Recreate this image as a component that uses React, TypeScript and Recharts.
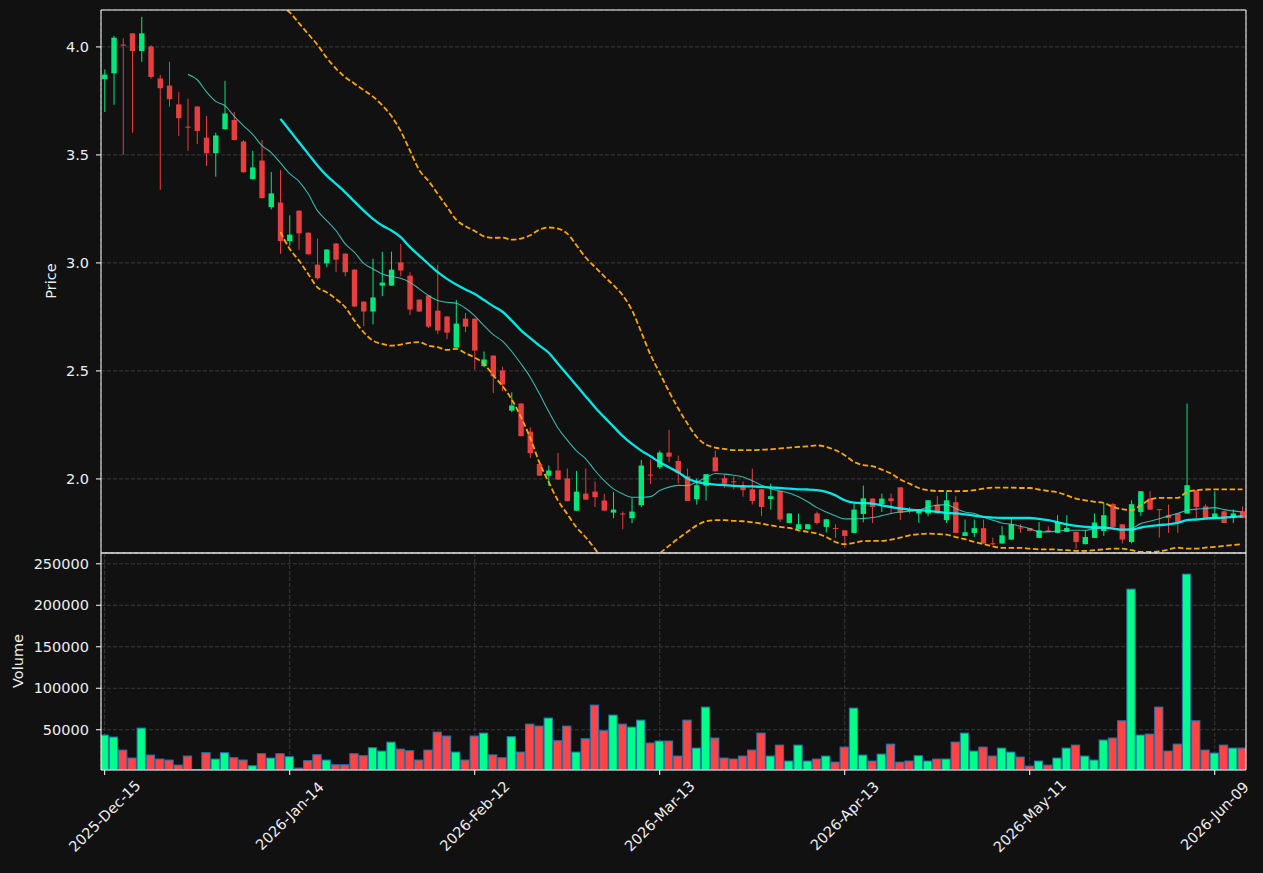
import React from "react";
import {
  ComposedChart,
  Bar,
  Line,
  XAxis,
  YAxis,
  CartesianGrid,
} from "recharts";

// ticks every 20 sessions
const tickIdx = [0, 20, 40, 60, 80, 100, 120];
const tickLabels = [
  "2025-Dec-15",
  "2026-Jan-14",
  "2026-Feb-12",
  "2026-Mar-13",
  "2026-Apr-13",
  "2026-May-11",
  "2026-Jun-09",
];

const opens = [
  3.851, 3.878, 4.011, 4.063, 3.981, 4.002, 3.854, 3.821, 3.734, 3.631,
  3.724, 3.58, 3.508, 3.619, 3.662, 3.562, 3.388, 3.474, 3.258, 3.28,
  3.101, 3.242, 3.14, 2.992, 2.998, 3.09, 3.043, 2.969, 2.821, 2.775,
  2.895, 2.895, 3.002, 2.941, 2.83, 2.849, 2.779, 2.752, 2.608, 2.742,
  2.742, 2.522, 2.571, 2.502, 2.316, 2.349, 2.219, 2.069, 2.015, 2.039,
  2.002, 1.853, 1.932, 1.941, 1.9, 1.844, 1.84, 1.818, 1.878, 2.02,
  2.054, 2.122, 2.083, 2.012, 1.906, 1.968, 2.1, 2.003, 1.989, 1.963,
  1.952, 1.952, 1.907, 1.944, 1.796, 1.767, 1.767, 1.84, 1.778, 1.773,
  1.762, 1.75, 1.838, 1.909, 1.883, 1.91, 1.961, 1.856, 1.84, 1.84,
  1.881, 1.809, 1.892, 1.736, 1.75, 1.772, 1.702, 1.701, 1.719, 1.775,
  1.772, 1.727, 1.762, 1.75, 1.755, 1.755, 1.698, 1.727, 1.759, 1.883,
  1.79, 1.708, 1.847, 1.909, 1.86, 1.832, 1.84, 1.84, 1.948, 1.873,
  1.819, 1.85, 1.819, 1.85,
];
const highs = [
  3.896, 4.051, 4.04, 4.065, 4.139, 4.008, 3.87, 3.931, 3.792, 3.76,
  3.726, 3.681, 3.603, 3.843, 3.699, 3.569, 3.519, 3.569, 3.421, 3.431,
  3.22, 3.243, 3.142, 3.113, 3.063, 3.091, 3.044, 2.97, 2.822, 3.02,
  3.052, 3.052, 3.088, 2.957, 2.831, 2.85, 2.992, 2.753, 2.829, 2.768,
  2.743, 2.59, 2.572, 2.52, 2.401, 2.35, 2.239, 2.07, 2.062, 2.12,
  2.048, 2.037, 2.048, 1.988, 1.931, 1.94, 1.849, 1.914, 2.088, 2.09,
  2.131, 2.227, 2.108, 2.048, 2.002, 2.023, 2.131, 2.02, 2.012, 1.988,
  2.048, 1.953, 1.978, 1.945, 1.841, 1.84, 1.791, 1.849, 1.815, 1.79,
  1.763, 1.886, 1.969, 1.91, 1.932, 1.932, 1.962, 1.87, 1.856, 1.902,
  1.92, 1.94, 1.92, 1.812, 1.812, 1.812, 1.728, 1.781, 1.816, 1.79,
  1.773, 1.801, 1.781, 1.832, 1.832, 1.756, 1.762, 1.84, 1.889, 1.889,
  1.791, 1.901, 1.944, 1.943, 1.86, 1.881, 1.841, 2.349, 1.949, 1.883,
  1.943, 1.851, 1.858, 1.873,
];
const lows = [
  3.699, 3.732, 3.5, 3.603, 3.931, 3.853, 3.338, 3.723, 3.588, 3.519,
  3.551, 3.449, 3.399, 3.617, 3.567, 3.418, 3.386, 3.298, 3.248, 3.042,
  3.079, 3.06, 3.038, 2.923, 2.98, 2.957, 2.938, 2.797, 2.707, 2.716,
  2.846, 2.894, 2.938, 2.759, 2.774, 2.698, 2.67, 2.647, 2.607, 2.679,
  2.506, 2.517, 2.397, 2.406, 2.309, 2.197, 2.097, 2.014, 1.969, 1.996,
  1.896, 1.852, 1.903, 1.87, 1.852, 1.818, 1.767, 1.795, 1.869, 1.977,
  2.046, 2.077, 1.98, 1.897, 1.881, 1.9, 2.034, 1.958, 1.951, 1.918,
  1.881, 1.829, 1.858, 1.801, 1.795, 1.766, 1.766, 1.789, 1.752, 1.727,
  1.681, 1.749, 1.799, 1.796, 1.847, 1.84, 1.809, 1.84, 1.796, 1.827,
  1.839, 1.796, 1.749, 1.735, 1.731, 1.7, 1.693, 1.7, 1.718, 1.75,
  1.758, 1.726, 1.754, 1.749, 1.754, 1.677, 1.697, 1.726, 1.736, 1.777,
  1.701, 1.701, 1.829, 1.857, 1.728, 1.75, 1.75, 1.839, 1.819, 1.818,
  1.818, 1.795, 1.796, 1.818,
];
const closes = [
  3.872, 4.043, 4.006, 3.981, 4.063, 3.861, 3.809, 3.758, 3.67, 3.628,
  3.611, 3.508, 3.59, 3.692, 3.569, 3.42, 3.442, 3.3, 3.322, 3.101,
  3.131, 3.137, 3.04, 2.929, 3.062, 3.015, 2.957, 2.798, 2.775, 2.84,
  2.909, 2.969, 2.965, 2.784, 2.775, 2.705, 2.687, 2.677, 2.719, 2.705,
  2.594, 2.553, 2.475, 2.437, 2.34, 2.198, 2.119, 2.015, 2.039, 1.997,
  1.897, 1.941, 1.904, 1.915, 1.853, 1.858, 1.837, 1.849, 2.062, 2.017,
  2.122, 2.103, 2.026, 1.898, 1.971, 2.022, 2.035, 1.978, 1.986, 1.948,
  1.898, 1.87, 1.92, 1.812, 1.84, 1.79, 1.79, 1.796, 1.813, 1.77,
  1.736, 1.858, 1.91, 1.87, 1.909, 1.897, 1.843, 1.853, 1.855, 1.901,
  1.84, 1.901, 1.75, 1.753, 1.772, 1.701, 1.699, 1.739, 1.79, 1.772,
  1.759, 1.762, 1.755, 1.801, 1.773, 1.708, 1.731, 1.798, 1.832, 1.778,
  1.719, 1.883, 1.943, 1.858, 1.857, 1.819, 1.801, 1.971, 1.87, 1.819,
  1.84, 1.796, 1.84, 1.819,
];
const volumes = [
  43600, 41200, 25500, 15900, 52000, 19500, 14700, 13500, 7400, 18300,
  2200, 22300, 14700, 22300, 16300, 13500, 6600, 21100, 15900, 21100,
  17500, 3800, 12700, 19900, 13500, 7800, 7800, 21100, 18700, 28300,
  24300, 35100, 26700, 24700, 13500, 25500, 47200, 42400, 23100, 13500,
  42400, 46000, 19700, 16300, 41600, 23100, 56800, 54400, 64100, 36800,
  54400, 23100, 39200, 79700, 48800, 67700, 56800, 53200, 61600, 34000,
  36400, 36400, 18300, 61600, 27900, 77300, 40000, 15900, 14700, 18300,
  25500, 46000, 18300, 31500, 12300, 31500, 12300, 14700, 18300, 11000,
  29100, 76100, 19500, 12300, 20700, 32700, 11000, 12300, 18700, 12300,
  14700, 14700, 35100, 46000, 24300, 29100, 18300, 27900, 23100, 17100,
  6200, 12300, 7400, 15900, 27900, 31500, 18300, 13500, 37600, 40000,
  60800, 219500, 43600, 44800, 77300, 24300, 32700, 237600, 60800, 25500,
  21900, 31500, 27900, 27900,
];

// short average, drawn from session 9
const ma10Start = 9;
const ma10 = [
  3.873, 3.848, 3.792, 3.748, 3.728, 3.679, 3.636, 3.595, 3.543, 3.511,
  3.463, 3.413, 3.378, 3.32, 3.242, 3.196, 3.15, 3.088, 3.049, 2.998,
  2.972, 2.949, 2.937, 2.929, 2.91, 2.88, 2.849, 2.826, 2.818, 2.813,
  2.79, 2.755, 2.71, 2.668, 2.638, 2.59, 2.533, 2.471, 2.394, 2.312,
  2.236, 2.18, 2.13, 2.093, 2.039, 1.992, 1.954, 1.931, 1.915, 1.915,
  1.918, 1.946, 1.962, 1.97, 1.969, 1.986, 2.006, 2.025, 2.022, 2.017,
  2.009, 1.991, 1.971, 1.955, 1.944, 1.935, 1.917, 1.894, 1.867, 1.847,
  1.829, 1.815, 1.815, 1.817, 1.821, 1.83, 1.84, 1.847, 1.85, 1.855,
  1.87, 1.878, 1.881, 1.863, 1.847, 1.84, 1.824, 1.809, 1.796, 1.79,
  1.781, 1.77, 1.755, 1.755, 1.758, 1.762, 1.762, 1.762, 1.77, 1.773,
  1.773, 1.765, 1.77, 1.793, 1.804, 1.816, 1.829, 1.84, 1.855, 1.86,
  1.863, 1.867, 1.858, 1.852, 1.847,
];

// long average and bands, drawn from session 19
const bandStart = 19;
const ma20 = [
  3.667, 3.613, 3.559, 3.505, 3.451, 3.404, 3.366, 3.327, 3.284, 3.242,
  3.204, 3.173, 3.15, 3.119, 3.073, 3.034, 2.995, 2.957, 2.926, 2.9,
  2.877, 2.856, 2.828, 2.8, 2.774, 2.733, 2.688, 2.652, 2.617, 2.584,
  2.533, 2.483, 2.433, 2.382, 2.332, 2.286, 2.242, 2.198, 2.162, 2.131,
  2.105, 2.077, 2.054, 2.031, 2.002, 1.986, 1.978, 1.974, 1.971, 1.968,
  1.966, 1.965, 1.963, 1.961, 1.958, 1.955, 1.952, 1.951, 1.948, 1.94,
  1.924, 1.901, 1.89, 1.888, 1.886, 1.877, 1.87, 1.863, 1.858, 1.855,
  1.852, 1.847, 1.843, 1.84, 1.836, 1.83, 1.824, 1.821, 1.819, 1.819,
  1.819, 1.819, 1.815, 1.809, 1.8, 1.79, 1.783, 1.778, 1.775, 1.775,
  1.77, 1.765, 1.765, 1.775, 1.781, 1.786, 1.79, 1.796, 1.809, 1.812,
  1.816, 1.819, 1.821, 1.824, 1.827,
];
const bandUpper = [
  4.19, 4.16, 4.11, 4.06, 4.01, 3.95, 3.9, 3.86, 3.83, 3.8,
  3.77, 3.73, 3.68, 3.61, 3.52, 3.43, 3.38, 3.32, 3.26, 3.2,
  3.17, 3.148, 3.123, 3.116, 3.117, 3.108, 3.113, 3.128, 3.154, 3.164,
  3.159, 3.136, 3.082, 3.025, 2.981, 2.938, 2.897, 2.85, 2.781, 2.68,
  2.575, 2.49, 2.405, 2.326, 2.256, 2.194, 2.159, 2.145, 2.139, 2.133,
  2.133, 2.133, 2.135, 2.137, 2.141, 2.145, 2.148, 2.151, 2.155, 2.148,
  2.133, 2.11, 2.079, 2.064, 2.059, 2.043, 2.025, 1.997, 1.978, 1.958,
  1.948, 1.944, 1.944, 1.943, 1.944, 1.948, 1.955, 1.96, 1.96, 1.96,
  1.958, 1.958, 1.951, 1.944, 1.938, 1.924, 1.909, 1.901, 1.894, 1.889,
  1.87, 1.86, 1.855, 1.878, 1.904, 1.912, 1.912, 1.912, 1.94, 1.948,
  1.951, 1.952, 1.952, 1.952, 1.952,
];
const bandLower = [
  3.143, 3.065, 3.011, 2.949, 2.887, 2.864, 2.833, 2.795, 2.733, 2.679,
  2.64, 2.625, 2.617, 2.622, 2.63, 2.633, 2.617, 2.61, 2.597, 2.602,
  2.582, 2.562, 2.533, 2.48, 2.43, 2.368, 2.286, 2.19, 2.075, 1.985,
  1.9, 1.838, 1.776, 1.73, 1.676, 1.62, 1.58, 1.55, 1.54, 1.56,
  1.61, 1.655, 1.69, 1.724, 1.755, 1.785, 1.804, 1.809, 1.809, 1.806,
  1.804, 1.799, 1.793, 1.785, 1.778, 1.773, 1.762, 1.755, 1.747, 1.731,
  1.708, 1.698, 1.704, 1.712, 1.713, 1.713, 1.719, 1.728, 1.739, 1.744,
  1.747, 1.745, 1.742, 1.731, 1.721, 1.708, 1.698, 1.688, 1.681, 1.681,
  1.681, 1.677, 1.674, 1.674, 1.673, 1.67, 1.667, 1.667, 1.67, 1.674,
  1.677, 1.677, 1.67, 1.662, 1.662, 1.665, 1.673, 1.682, 1.677, 1.677,
  1.682, 1.685, 1.69, 1.694, 1.698,
];

const UP = "#00ff88";
const DOWN = "#ff4444";
const BG = "#111111";
const FG = "#eeeeee";
const GRID = "#3a3a3a";
const FONT = "DejaVu Sans, sans-serif";

const rows = opens.map((o, i) => ({
  i,
  open: o,
  high: highs[i],
  low: lows[i],
  close: closes[i],
  range: [lows[i], highs[i]],
  vol: volumes[i],
  ma10: i >= ma10Start ? ma10[i - ma10Start] : null,
  ma20: i >= bandStart ? ma20[i - bandStart] : null,
  upper: i >= bandStart ? bandUpper[i - bandStart] : null,
  lower: i >= bandStart ? bandLower[i - bandStart] : null,
}));

const xDomain = [-0.4, 123.38];

// eslint-disable-next-line @typescript-eslint/no-explicit-any
function Candle(props: any) {
  const { x, y, width, height, payload } = props;
  if (!payload || height == null) return null;
  const { open, close, high, low } = payload;
  const top = Math.min(y, y + height);
  const h = Math.abs(height);
  const k = h / (high - low);
  const cx = x + width / 2;
  const yO = top + (high - open) * k;
  const yC = top + (high - close) * k;
  const color = close >= open ? UP : DOWN;
  const bw = 5.4;
  return (
    <g opacity={0.9}>
      <line x1={cx} x2={cx} y1={top} y2={top + h} stroke={color} strokeWidth={1} />
      <rect
        x={cx - bw / 2}
        y={Math.min(yO, yC)}
        width={bw}
        height={Math.max(Math.abs(yC - yO), 1)}
        fill={color}
      />
    </g>
  );
}

// eslint-disable-next-line @typescript-eslint/no-explicit-any
function VolBar(props: any) {
  const { x, y, width, height, payload } = props;
  if (!payload) return null;
  const color = payload.close >= payload.open ? UP : DOWN;
  return (
    <rect
      x={x}
      y={y}
      width={width}
      height={height}
      fill={color}
      stroke="#1f77b4"
      strokeWidth={1}
    />
  );
}

// eslint-disable-next-line @typescript-eslint/no-explicit-any
function DateTick(props: any) {
  const { x, y, payload } = props;
  const label = tickLabels[tickIdx.indexOf(payload.value)] ?? "";
  const cy = y + 39;
  return (
    <text
      x={x}
      y={cy}
      textAnchor="middle"
      dominantBaseline="central"
      transform={`rotate(-45 ${x} ${cy})`}
      fill={FG}
      fontSize={14.5}
      fontFamily={FONT}
    >
      {label}
    </text>
  );
}

const tickStyle = { fill: FG, fontSize: 14.5, fontFamily: FONT };

export default function App() {
  return (
    <div
      style={{
        position: "absolute",
        left: 0,
        top: 0,
        width: 1263,
        height: 873,
        background: BG,
        overflow: "hidden",
      }}
    >
      {/* price panel */}
      <div style={{ position: "absolute", left: 0, top: 0 }}>
        <ComposedChart
          width={1263}
          height={554}
          data={rows}
          margin={{ top: 9, right: 16, bottom: 0, left: 41 }}
        >
          <CartesianGrid stroke={GRID} strokeDasharray="4 2" />
          <XAxis
            type="number"
            dataKey="i"
            domain={xDomain}
            ticks={tickIdx}
            allowDataOverflow
            height={1}
            tick={false}
            tickLine={false}
            axisLine={{ stroke: "#ffffff" }}
          />
          <XAxis
            xAxisId="top"
            orientation="top"
            type="number"
            dataKey="i"
            domain={xDomain}
            allowDataOverflow
            height={1}
            tick={false}
            tickLine={false}
            axisLine={{ stroke: "#ffffff" }}
          />
          <YAxis
            domain={[1.657, 4.171]}
            ticks={[2.0, 2.5, 3.0, 3.5, 4.0]}
            allowDataOverflow
            width={60}
            tickFormatter={(v: number) => v.toFixed(1)}
            tick={tickStyle}
            tickSize={5}
            tickMargin={7}
            tickLine={{ stroke: "#ffffff" }}
            axisLine={{ stroke: "#ffffff" }}
          />
          <YAxis
            yAxisId="right"
            orientation="right"
            domain={[1.657, 4.171]}
            width={1}
            tick={false}
            tickLine={false}
            axisLine={{ stroke: "#ffffff" }}
          />
          <Bar
            dataKey="range"
            barSize={5.4}
            shape={<Candle />}
            isAnimationActive={false}
          />
          <Line
            dataKey="upper"
            stroke="#ffa500"
            strokeWidth={1.8}
            strokeDasharray="5.5 2.6"
            dot={false}
            type="monotone"
            isAnimationActive={false}
          />
          <Line
            dataKey="lower"
            stroke="#ffa500"
            strokeWidth={1.8}
            strokeDasharray="5.5 2.6"
            dot={false}
            type="monotone"
            isAnimationActive={false}
          />
          <Line
            dataKey="ma20"
            stroke="#00ffff"
            strokeOpacity={0.9}
            strokeWidth={2.3}
            dot={false}
            type="monotone"
            isAnimationActive={false}
          />
          <Line
            dataKey="ma10"
            stroke="#40e0d0"
            strokeOpacity={0.8}
            strokeWidth={1.1}
            dot={false}
            type="monotone"
            isAnimationActive={false}
          />
        </ComposedChart>
      </div>

      {/* volume panel */}
      <div style={{ position: "absolute", left: 0, top: 552 }}>
        <ComposedChart
          width={1263}
          height={320}
          data={rows}
          margin={{ top: 0, right: 16, bottom: 0, left: 41 }}
        >
          <CartesianGrid stroke={GRID} strokeDasharray="4 2" />
          <XAxis
            type="number"
            dataKey="i"
            domain={xDomain}
            ticks={tickIdx}
            allowDataOverflow
            height={102}
            tick={<DateTick />}
            tickSize={5}
            tickMargin={2}
            tickLine={{ stroke: "#ffffff" }}
            axisLine={{ stroke: "#ffffff" }}
          />
          <XAxis
            xAxisId="top"
            orientation="top"
            type="number"
            dataKey="i"
            domain={xDomain}
            allowDataOverflow
            height={1}
            tick={false}
            tickLine={false}
            axisLine={{ stroke: "#ffffff" }}
          />
          <YAxis
            domain={[1500, 263000]}
            ticks={[50000, 100000, 150000, 200000, 250000]}
            allowDataOverflow
            width={60}
            tick={tickStyle}
            tickSize={5}
            tickMargin={7}
            tickLine={{ stroke: "#ffffff" }}
            axisLine={{ stroke: "#ffffff" }}
          />
          <YAxis
            yAxisId="right"
            orientation="right"
            domain={[1500, 263000]}
            width={1}
            tick={false}
            tickLine={false}
            axisLine={{ stroke: "#ffffff" }}
          />
          <Bar
            dataKey="vol"
            barSize={8.3}
            shape={<VolBar />}
            isAnimationActive={false}
          />
        </ComposedChart>
      </div>

      {/* axis titles */}
      <svg
        width={1263}
        height={873}
        style={{ position: "absolute", left: 0, top: 0, pointerEvents: "none" }}
      >
        <text
          x={51}
          y={281}
          textAnchor="middle"
          dominantBaseline="central"
          transform="rotate(-90 51 281)"
          fill={FG}
          fontSize={14.5}
          fontFamily={FONT}
        >
          Price
        </text>
        <text
          x={18}
          y={661}
          textAnchor="middle"
          dominantBaseline="central"
          transform="rotate(-90 18 661)"
          fill={FG}
          fontSize={14.5}
          fontFamily={FONT}
        >
          Volume
        </text>
      </svg>
    </div>
  );
}
